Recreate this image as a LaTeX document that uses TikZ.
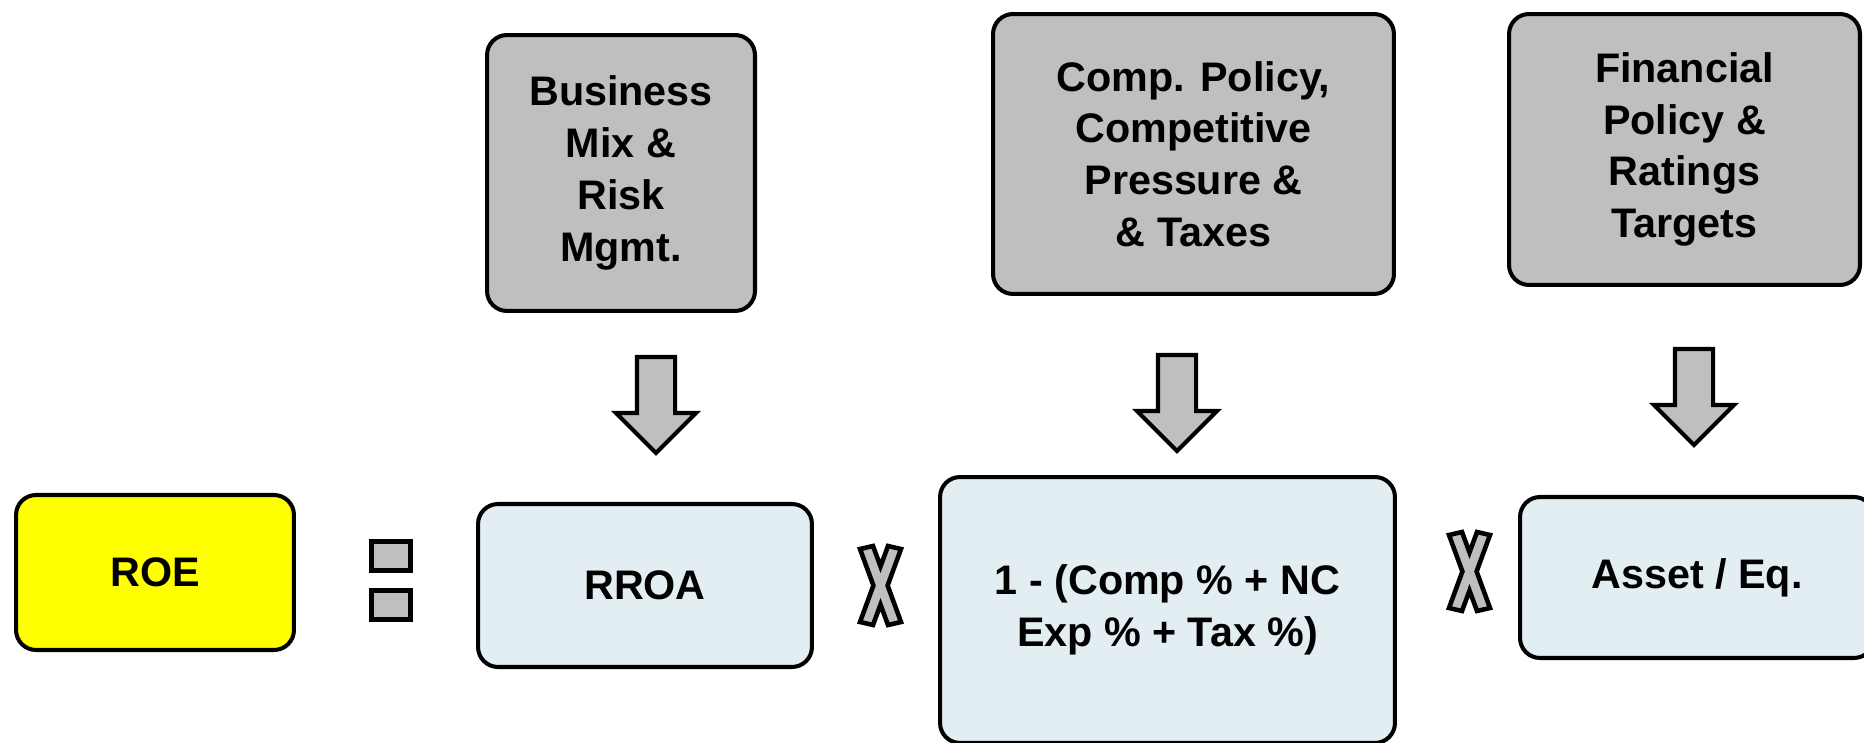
\documentclass[tikz,border=0pt]{standalone}
\usepackage{fontspec}
\setmainfont{Liberation Sans}
\usetikzlibrary{shapes.arrows}
\definecolor{roeyellow}{RGB}{255,255,0}
\definecolor{drivergray}{RGB}{191,191,191}
\definecolor{termblue}{RGB}{227,238,243}
\tikzset{
  box/.style={draw, line width=2.3pt, rounded corners=0.4cm, align=center, inner sep=0pt,
    font=\bfseries\fontsize{23.5}{29.5}\selectfont},
  driver/.style={box, fill=drivergray},
  term/.style={box, fill=termblue},
  eqbar/.style={draw, fill=drivergray, line width=2.8pt, inner sep=0pt,
    minimum width=0.78cm, minimum height=0.58cm},
  push/.style={single arrow, draw, fill=drivergray, line width=2.3pt, rotate=-90, anchor=tail,
    inner sep=0.34cm, single arrow head extend=0.42cm, minimum height=1.92cm},
  timesmark/.style={draw, fill=drivergray, line width=2.6pt, line join=miter}
}
\begin{document}
\begin{tikzpicture}[x=0.02cm, y=-0.02cm]
    \useasboundingbox (0,0) rectangle (1864,743);
    \fill[white] (0,0) rectangle (1864,743);
    \clip (0,0) rectangle (1864,743);
    \node[driver, minimum width=5.36cm, minimum height=5.52cm] (mix) at (621,173) {Business\\Mix \&\\Risk\\Mgmt.};
    \node[driver, minimum width=8.02cm, minimum height=5.60cm] (comp) at (1193.5,154) {Comp. Policy,\\Competitive\\Pressure \&\\\& Taxes};
    \node[driver, minimum width=7.02cm, minimum height=5.42cm] (fin) at (1684.5,149.5) {Financial\\Policy \&\\Ratings\\Targets};
    \node[push] (pushA) at (656,355) {};
    \node[push] (pushB) at (1177,353) {};
    \node[push] (pushC) at (1694,347) {};
    \node[box, fill=roeyellow, minimum width=5.56cm, minimum height=3.10cm] (roe) at (155,572.5) {ROE};
    \node[eqbar] (eqtop) at (391,556) {};
    \node[eqbar] (eqbot) at (391,605) {};
    \node[term, minimum width=6.68cm, minimum height=3.26cm] (rroa) at (645,585.5) {RROA};
    \node[term, minimum width=9.10cm, minimum height=5.32cm] (margin) at (1167.5,610) {1 - (Comp \% + NC\\Exp \% + Tax \%)};
    \node[term, minimum width=7.08cm, minimum height=3.22cm] (lever) at (1697,577.5) {Asset / Eq.};
    \foreach \x/\y in {860/546, 1449/532}
      \draw[timesmark, shift={(\x,\y)}] (0,3) -- (13,0) -- (20.5,20.4) -- (28,0) -- (41,3) -- (27.6,39.5)
        -- (41,76) -- (28,79) -- (20.5,58.6) -- (13,79) -- (0,76) -- (13.4,39.5) -- cycle;
\end{tikzpicture}
\end{document}
